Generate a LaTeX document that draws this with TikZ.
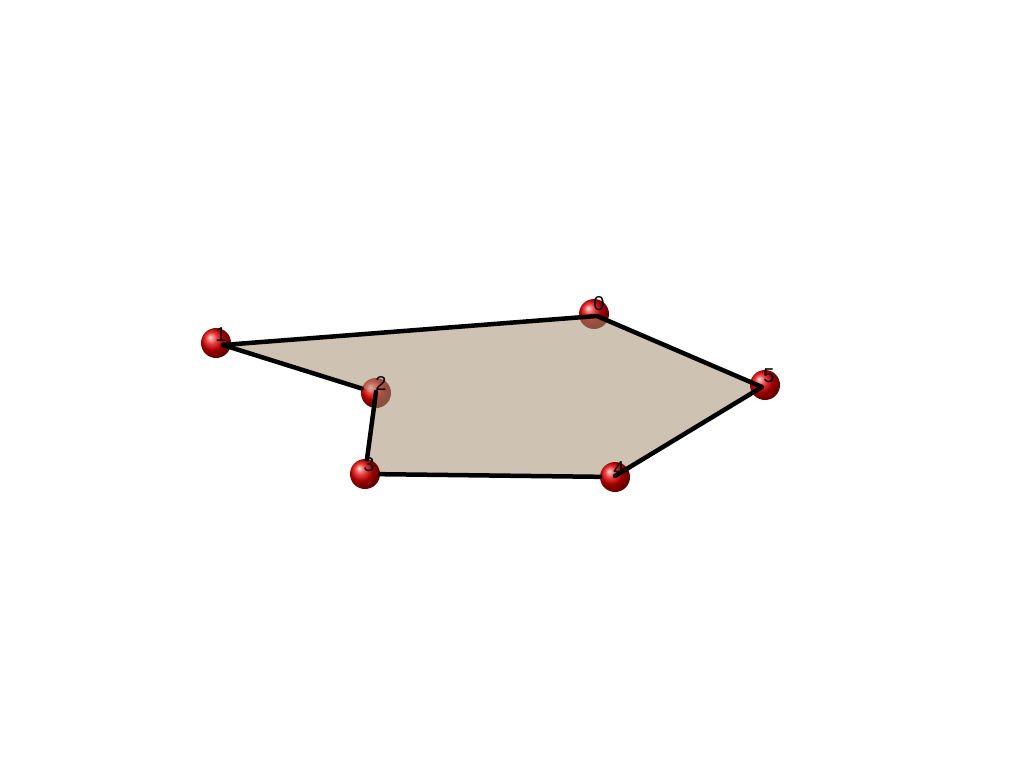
\documentclass[tikz,border=0pt]{standalone}
\usepackage{fontspec}
\setmainfont{Liberation Sans}
\begin{document}
\begin{tikzpicture}[x=1pt,y=-1pt,
  sphere/.style={circle,minimum size=30pt,inner sep=0pt,shading=ball,ball color=red!90!black},
  lbl/.style={font=\fontsize{20}{20}\selectfont,inner sep=0pt,text=black},
  edge/.style={line width=4.5pt,black,line join=round,line cap=round},
  face/.style={fill={rgb,255:red,167;green,144;blue,115},fill opacity=0.55}]
\useasboundingbox (0,0) rectangle (1024,768);
\fill[white] (0,0) rectangle (1024,768);
% vertices
\coordinate (p0) at (597,316);
\coordinate (p1) at (223,345);
\coordinate (p2) at (376,392);
\coordinate (p3) at (367,474);
\coordinate (p4) at (615,476);
\coordinate (p5) at (762,387);
% spheres behind the face
\node[sphere] (s0) at (594,314) {};
\node[sphere] (s2) at (376,393) {};
% face
\path[face] (p0) -- (p1) -- (p2) -- (p3) -- (p4) -- (p5) -- cycle;
% spheres in front
\node[sphere] (s1) at (216,343) {};
\node[sphere] (s3) at (365,474) {};
\node[sphere] (s4) at (615,477) {};
\node[sphere] (s5) at (765,385) {};
% edges
\draw[edge] (p1) -- (s2);
\draw[edge] (p2) -- (s3);
\draw[edge] (s3) -- (s4);
\draw[edge] (p4) -- (p5) -- (p0) -- (p1);
% labels
\node[lbl] (l0) at (599,304) {0};
\node[lbl] (l1) at (221,335) {1};
\node[lbl] (l2) at (381,384) {2};
\node[lbl] (l3) at (369,465) {3};
\node[lbl] (l4) at (619,469) {4};
\node[lbl] (l5) at (769,376) {5};
\end{tikzpicture}
\end{document}
